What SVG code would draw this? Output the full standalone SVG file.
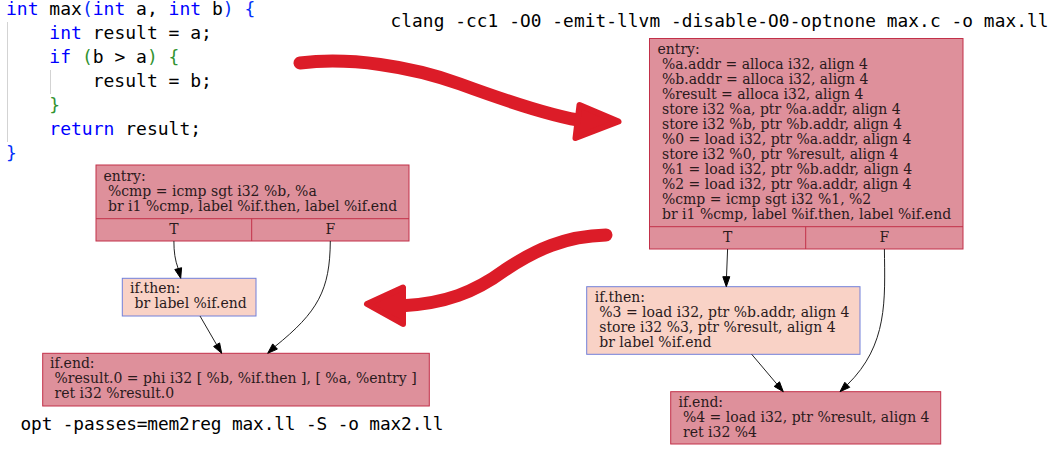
<svg xmlns="http://www.w3.org/2000/svg" width="1056" height="460" viewBox="0 0 1056 460">
<style>
.code{font-family:"DejaVu Sans Mono","Liberation Mono",monospace;font-size:18px;fill:#000}
.kw{fill:#0000ff}
.b1{fill:#0431fa}
.b2{fill:#319331}
.cmd{font-family:"DejaVu Sans Mono","Liberation Mono",monospace;font-size:17.8px;fill:#000}
.guide{stroke:#d3d3d3;stroke-width:1}
.hot{fill:#de909b;stroke:#c23049;stroke-width:1}
.cold{fill:#f9d2c6;stroke:#7280da;stroke-width:1}
.sep{stroke:#c23049;stroke-width:1;fill:none}
.lbl{font-family:"DejaVu Serif","Liberation Serif",serif;font-size:14px;fill:#2a1a1c}
.ctr{text-anchor:middle}
.edge{fill:none;stroke:#222;stroke-width:1}
.head{fill:#000;stroke:#000;stroke-width:1}
.big{fill:none;stroke:#dc1c28;stroke-width:13;stroke-linecap:round;stroke-linejoin:round}
.bighead{fill:#dc1c28;stroke:#dc1c28;stroke-width:6;stroke-linejoin:round}
</style>
<rect width="1056" height="460" fill="#fff"/>

<g id="source">
<line class="guide" x1="7.5" y1="22" x2="7.5" y2="142"/>
<line class="guide" x1="50.5" y1="70" x2="50.5" y2="94"/>
<text class="code" xml:space="preserve"><tspan x="6" y="15"><tspan class="kw">int</tspan> max<tspan class="b1">(</tspan><tspan class="kw">int</tspan> a, <tspan class="kw">int</tspan> b<tspan class="b1">)</tspan> <tspan class="b1">{</tspan></tspan><tspan x="6" y="39">    <tspan class="kw">int</tspan> result = a;</tspan><tspan x="6" y="63">    <tspan class="kw">if</tspan> <tspan class="b2">(</tspan>b &gt; a<tspan class="b2">)</tspan> <tspan class="b2">{</tspan></tspan><tspan x="6" y="87">        result = b;</tspan><tspan x="6" y="111"><tspan class="b2">    }</tspan></tspan><tspan x="6" y="135">    <tspan class="kw">return</tspan> result;</tspan><tspan x="6" y="159" class="b1">}</tspan></text>
</g>

<g id="cmd-clang"><text class="cmd" x="390.5" y="26.5" textLength="658" lengthAdjust="spacing">clang -cc1 -O0 -emit-llvm -disable-O0-optnone max.c -o max.ll</text></g>
<g id="cmd-opt"><text class="cmd" x="20.5" y="430" textLength="423" lengthAdjust="spacing">opt -passes=mem2reg max.ll -S -o max2.ll</text></g>

<g id="big-arrows">
<path class="big" d="M300,63 C350,57 410,66 460,84 C520,106 560,118 585,121"/>
<polygon class="bighead" points="618.5,121.5 579.5,105 575.5,138"/>
<path class="big" d="M606,235 C565,236 535,250 505,270 C475,292 445,304 400,306"/>
<polygon class="bighead" points="367,304 403,287.5 403,324"/>
</g>

<g id="r-entry">
<rect class="hot" x="649.5" y="38.5" width="313.5" height="210.5"/>
<line class="sep" x1="649.5" y1="226.7" x2="963" y2="226.7"/>
<line class="sep" x1="805.7" y1="226.7" x2="805.7" y2="249"/>
<text class="lbl" xml:space="preserve"><tspan x="657.5" y="54">entry:</tspan><tspan x="657.5" y="69"> %a.addr = alloca i32, align 4</tspan><tspan x="657.5" y="84"> %b.addr = alloca i32, align 4</tspan><tspan x="657.5" y="99"> %result = alloca i32, align 4</tspan><tspan x="657.5" y="114"> store i32 %a, ptr %a.addr, align 4</tspan><tspan x="657.5" y="129"> store i32 %b, ptr %b.addr, align 4</tspan><tspan x="657.5" y="144"> %0 = load i32, ptr %a.addr, align 4</tspan><tspan x="657.5" y="159"> store i32 %0, ptr %result, align 4</tspan><tspan x="657.5" y="174"> %1 = load i32, ptr %b.addr, align 4</tspan><tspan x="657.5" y="189"> %2 = load i32, ptr %a.addr, align 4</tspan><tspan x="657.5" y="204"> %cmp = icmp sgt i32 %1, %2</tspan><tspan x="657.5" y="219"> br i1 %cmp, label %if.then, label %if.end</tspan></text>
<text class="lbl ctr" x="727.6" y="241.7">T</text>
<text class="lbl ctr" x="884.4" y="241.7">F</text>
</g>

<g id="r-ifthen">
<rect class="cold" x="586.7" y="286.7" width="273.3" height="67.6"/>
<text class="lbl" xml:space="preserve"><tspan x="594.8" y="301.7">if.then:</tspan><tspan x="594.8" y="316.7"> %3 = load i32, ptr %b.addr, align 4</tspan><tspan x="594.8" y="331.7"> store i32 %3, ptr %result, align 4</tspan><tspan x="594.8" y="346.7"> br label %if.end</tspan></text>
</g>

<g id="r-ifend">
<rect class="hot" x="670.7" y="391.7" width="270" height="52.3"/>
<text class="lbl" xml:space="preserve"><tspan x="678.5" y="406.7">if.end:</tspan><tspan x="678.5" y="421.7"> %4 = load i32, ptr %result, align 4</tspan><tspan x="678.5" y="436.7"> ret i32 %4</tspan></text>
</g>

<g id="l-entry">
<rect class="hot" x="96" y="165" width="313" height="76"/>
<line class="sep" x1="96" y1="218.7" x2="409" y2="218.7"/>
<line class="sep" x1="251.7" y1="218.7" x2="251.7" y2="241"/>
<text class="lbl" xml:space="preserve"><tspan x="103.5" y="180.7">entry:</tspan><tspan x="103.5" y="195.7"> %cmp = icmp sgt i32 %b, %a</tspan><tspan x="103.5" y="210.7"> br i1 %cmp, label %if.then, label %if.end</tspan></text>
<text class="lbl ctr" x="173.9" y="234">T</text>
<text class="lbl ctr" x="330.3" y="234">F</text>
</g>

<g id="l-ifthen">
<rect class="cold" x="122.3" y="278.3" width="133.7" height="37.7"/>
<text class="lbl" xml:space="preserve"><tspan x="130" y="293.3">if.then:</tspan><tspan x="130" y="308.3"> br label %if.end</tspan></text>
</g>

<g id="l-ifend">
<rect class="hot" x="42.7" y="353.3" width="386.6" height="52.7"/>
<text class="lbl" xml:space="preserve"><tspan x="50" y="368.3">if.end:</tspan><tspan x="50" y="383.3"> %result.0 = phi i32 [ %b, %if.then ], [ %a, %entry ]</tspan><tspan x="50" y="398.3"> ret i32 %result.0</tspan></text>
</g>

<g id="connectors">
<path class="edge" d="M173.9,241 C173.9,252 175,260 178.2,268.6"/>
<polygon class="head" points="180.7,278.3 181.6,267.7 174.8,269.5"/>
<path class="edge" d="M330.3,241 C330,290 318,312 275,346.5"/>
<polygon class="head" points="267.7,353.3 277.4,349.1 272.7,343.9"/>
<path class="edge" d="M200,316 L216.6,344.7"/>
<polygon class="head" points="221.7,353.3 219.6,342.9 213.6,346.5"/>
<path class="edge" d="M727.6,249 L726.5,276.7"/>
<polygon class="head" points="726.3,286.7 729.8,276.7 722.8,276.7"/>
<path class="edge" d="M884.4,249 C885,300 888,345 847.3,384.8"/>
<polygon class="head" points="840,391.7 849.7,387.3 844.8,382.3"/>
<path class="edge" d="M751.7,354.3 L776.9,384.1"/>
<polygon class="head" points="783.3,391.7 779.5,381.8 774.2,386.4"/>
</g>
</svg>
